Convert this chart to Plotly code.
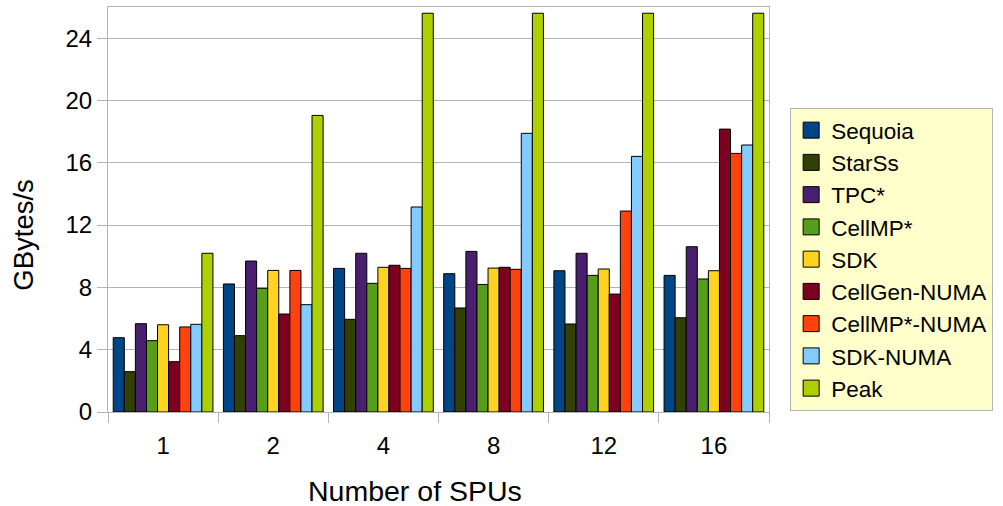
import plotly.graph_objects as go

categories = ["1", "2", "4", "8", "12", "16"]
series_names = ["Sequoia", "StarSs", "TPC*", "CellMP*", "SDK",
                "CellGen-NUMA", "CellMP*-NUMA", "SDK-NUMA", "Peak"]
sequoia = [4.77, 8.22, 9.22, 8.88, 9.07, 8.77]
starss = [2.59, 4.90, 5.95, 6.68, 5.65, 6.05]
tpc = [5.67, 9.69, 10.19, 10.31, 10.19, 10.61]
cellmp = [4.58, 7.94, 8.26, 8.19, 8.77, 8.54]
sdk = [5.60, 9.09, 9.29, 9.24, 9.18, 9.07]
cellgen_numa = [3.23, 6.29, 9.42, 9.29, 7.57, 18.16]
cellmp_numa = [5.46, 9.09, 9.22, 9.16, 12.90, 16.60]
sdk_numa = [5.63, 6.89, 13.16, 17.89, 16.41, 17.14]
peak = [10.19, 19.04, 25.6, 25.6, 25.6, 25.6]
all_values = [sequoia, starss, tpc, cellmp, sdk, cellgen_numa, cellmp_numa, sdk_numa, peak]
colors = ["#004586", "#314004", "#4b1f6f", "#579d1c", "#ffd320",
          "#7e0021", "#ff420e", "#83caff", "#aecf00"]
y_ticks = [0, 4, 8, 12, 16, 20, 24]
x_title = "Number of SPUs"
y_title = "GBytes/s"

FONT = "Liberation Sans, Arial, sans-serif"

fig = go.Figure()
for name, vals, col in zip(series_names, all_values, colors):
    fig.add_trace(go.Bar(
        x=categories, y=vals, name=name, showlegend=False,
        marker=dict(color=col, line=dict(color="#000000", width=1)),
    ))
# legend entries with larger square swatches
for name, col in zip(series_names, colors):
    fig.add_trace(go.Scatter(
        x=[None], y=[None], mode="markers", name=name,
        marker=dict(symbol="square", size=16, color=col,
                    line=dict(color="#000000", width=1)),
    ))

fig.update_layout(
    width=1003, height=506,
    margin=dict(l=108, r=234, t=7, b=94, autoexpand=False),
    paper_bgcolor="white", plot_bgcolor="white",
    barmode="group", bargap=0.095, bargroupgap=0,
    font=dict(family=FONT, size=24, color="#000000"),
    legend=dict(
        x=1.032, y=0.7506, xanchor="left", yanchor="top",
        bgcolor="#ffffcc", bordercolor="#b3b3b3", borderwidth=1,
        font=dict(family=FONT, size=22.5, color="#000000"),
        itemsizing="trace", tracegroupgap=0, entrywidth=175,
    ),
    xaxis=dict(
        type="category", tickson="boundaries",
        ticks="outside", ticklen=10, tickcolor="#b3b3b3", tickwidth=1,
        showline=True, linecolor="#b3b3b3", linewidth=1, mirror=True,
        showgrid=False,
        tickfont=dict(size=24), ticklabelstandoff=12,
    ),
    yaxis=dict(
        range=[0, 26], tickvals=y_ticks,
        ticks="outside", ticklen=10, tickcolor="#b3b3b3", tickwidth=1,
        showline=True, linecolor="#b3b3b3", linewidth=1, mirror=True,
        showgrid=True, gridcolor="#b3b3b3", gridwidth=1,
        zeroline=False,
        tickfont=dict(size=24),
    ),
    annotations=[
        dict(text=x_title, xref="paper", yref="paper", x=0.4645, y=-0.195,
             xanchor="center", yanchor="middle", showarrow=False,
             font=dict(size=28.5)),
        dict(text=y_title, xref="paper", yref="paper", x=-0.129, y=0.437,
             xanchor="center", yanchor="middle", showarrow=False,
             textangle=-90, font=dict(size=27.5)),
    ],
)

fig.write_html("out.html", config={"displayModeBar": False},
               post_script="document.body.style.margin='0';")
